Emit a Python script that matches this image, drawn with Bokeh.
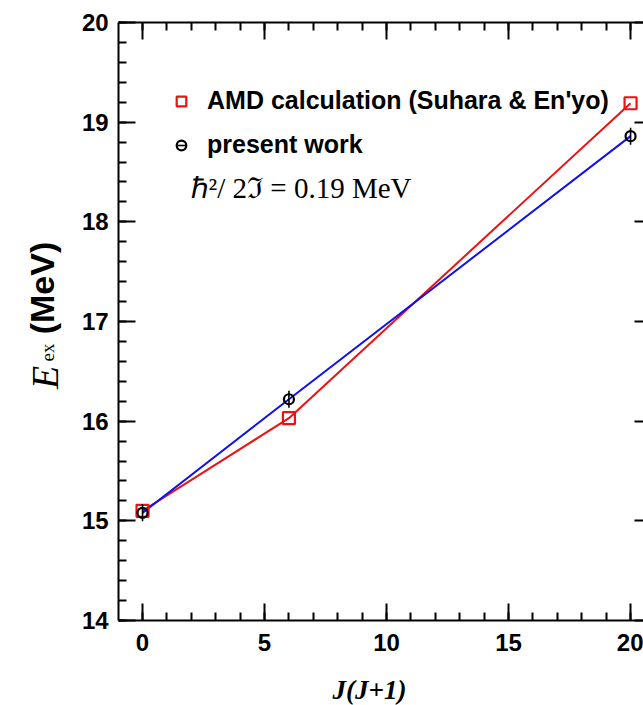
import math
from bokeh.plotting import figure
from bokeh.models import (LinearAxis, SingleIntervalTicker, Label, Legend, LegendItem)
from bokeh.embed import file_html
from bokeh.resources import INLINE

# Data
j_amd = [0, 6, 20]
e_amd = [15.10, 16.03, 19.19]
j_exp = [0, 6, 20]
e_exp = [15.08, 16.22, 18.86]

X_LO, X_HI = -0.98, 20.54
Y_LO, Y_HI = 14, 20

RED = "#ee1111"
BLUE = "#1010ee"

# The frame covers the whole canvas; the axes are placed with fixed_location.
p = figure(width=643, height=705, x_range=(-5.82, 20.53), y_range=(13.147, 20.221),
           output_backend="svg", toolbar_location=None,
           min_border_left=0, min_border_right=0, min_border_top=0,
           min_border_bottom=0, x_axis_location=None, y_axis_location=None)
p.xgrid.visible = False
p.ygrid.visible = False
p.outline_line_color = None
p.background_fill_color = "white"
p.border_fill_color = "white"

def style_axis(ax, labels=True):
    ax.axis_line_width = 2
    ax.axis_line_color = "black"
    ax.major_tick_line_width = 2
    ax.minor_tick_line_width = 2
    ax.major_tick_in = 17
    ax.major_tick_out = 0
    ax.minor_tick_in = 8
    ax.minor_tick_out = 0
    ax.major_label_text_font = "Liberation Sans"
    ax.major_label_text_font_style = "bold"
    ax.major_label_text_font_size = "24px" if labels else "8px"
    ax.major_label_text_color = "black" if labels else None
    if not labels:
        ax.major_label_standoff = 0

xt = SingleIntervalTicker(interval=5, num_minor_ticks=5)
yt = SingleIntervalTicker(interval=1, num_minor_ticks=5)

xb = LinearAxis(ticker=xt, fixed_location=Y_LO, bounds=(X_LO, X_HI))
style_axis(xb)
xb.major_label_standoff = 14
p.add_layout(xb, "below")

xa = LinearAxis(ticker=xt, fixed_location=Y_HI, bounds=(X_LO, X_HI))
style_axis(xa, labels=False)
p.add_layout(xa, "above")

yl = LinearAxis(ticker=yt, fixed_location=X_LO, bounds=(Y_LO, Y_HI))
style_axis(yl)
yl.major_label_standoff = 10
p.add_layout(yl, "left")

yr = LinearAxis(ticker=yt, fixed_location=20.86, bounds=(Y_LO, Y_HI))
style_axis(yr, labels=False)
p.add_layout(yr, "right")

# Lines
p.line(j_amd, e_amd, line_color=RED, line_width=2)
p.line(j_exp, e_exp, line_color=BLUE, line_width=2)

# Markers
r_amd = p.scatter(j_amd, e_amd, marker="square", size=12, fill_color=None,
                  line_color=RED, line_width=2.2)
r_err = p.scatter(j_exp, e_exp, marker="dash", angle=math.pi / 2, size=17,
                  line_color="black", line_width=1.6)
r_exp = p.scatter(j_exp, e_exp, marker="circle", size=10, fill_color=None,
                  line_color="black", line_width=2.2)

legend = Legend(items=[
    LegendItem(label="AMD calculation (Suhara & En'yo)", renderers=[r_amd]),
    LegendItem(label="present work", renderers=[r_err, r_exp]),
], location=(169, 546))
legend.margin = 0
legend.padding = 0
legend.spacing = 15
legend.glyph_width = 24
legend.glyph_height = 26
legend.label_height = 26
legend.label_standoff = 14
legend.border_line_color = None
legend.background_fill_alpha = 0
legend.label_text_font = "Liberation Sans"
legend.label_text_font_style = "bold"
legend.label_text_font_size = "25px"
legend.label_text_color = "black"
p.add_layout(legend)

# Annotation
p.add_layout(Label(x=1.97, y=18.335, text="ℏ²/ 2ℑ = 0.19 MeV",
                   text_font="Liberation Serif", text_font_size="29px",
                   text_baseline="middle", text_color="black"))

# X axis label
p.add_layout(Label(x=9.3, y=13.298, text="J(J+1)",
                   text_font="Liberation Serif", text_font_style="bold italic",
                   text_font_size="27px", text_align="center",
                   text_baseline="middle", text_color="black"))

# Y axis label pieces (rotated)
rot = math.pi / 2
p.add_layout(Label(x=-4.016, y=16.438, text="E", angle=rot,
                   text_font="Liberation Serif", text_font_style="italic",
                   text_font_size="38px", text_align="center",
                   text_baseline="middle", text_color="black"))
p.add_layout(Label(x=-3.893, y=16.689, text="ex", angle=rot,
                   text_font="Liberation Serif",
                   text_font_size="19px", text_align="center",
                   text_baseline="middle", text_color="black"))
p.add_layout(Label(x=-4.139, y=17.336, text="(MeV)", angle=rot,
                   text_font="Liberation Sans", text_font_style="bold",
                   text_font_size="34px", text_align="center",
                   text_baseline="middle", text_color="black"))

open("out.html", "w").write(file_html(p, INLINE))
